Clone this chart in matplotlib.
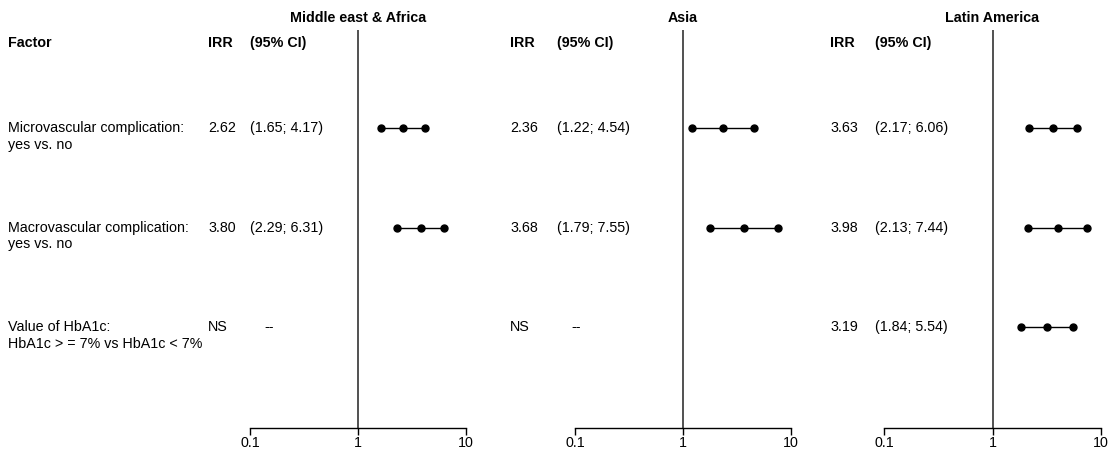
import matplotlib.pyplot as plt
import matplotlib.transforms as mtransforms

plt.rcParams['font.family'] = ['Liberation Sans', 'DejaVu Sans']
plt.rcParams['font.size'] = 10.3

regions = ['Middle east & Africa', 'Asia', 'Latin America']
factors = [('Microvascular complication:', 'yes vs. no'),
           ('Macrovascular complication:', 'yes vs. no'),
           ('Value of HbA1c:', 'HbA1c > = 7% vs HbA1c < 7%')]

# IRR, lower, upper per region (None = NS)
irr = [[2.62, 3.80, None],
       [2.36, 3.68, None],
       [3.63, 3.98, 3.19]]
lower = [[1.65, 2.29, None],
         [1.22, 1.79, None],
         [2.17, 2.13, 1.84]]
upper = [[4.17, 6.31, None],
         [4.54, 7.55, None],
         [6.06, 7.44, 5.54]]

W, H = 1109, 451
fig = plt.figure(figsize=(W / 100, H / 100), dpi=100)

# axes extents in pixels (left, right)
ax_px = [(250, 466), (575, 791), (884, 1101)]
irr_x = [208, 510, 830]
ci_x = [250, 557, 875]
top_px, bot_px = 30, 428

rows = [1, 2, 3]
for k in range(3):
    l, r = ax_px[k]
    ax = fig.add_axes([l / W, 1 - bot_px / H, (r - l) / W, (bot_px - top_px) / H])
    ax.set_xscale('log')
    ax.set_xlim(0.1, 10)
    ax.set_ylim(4.01, 0.02)
    for s in ['top', 'right', 'left']:
        ax.spines[s].set_visible(False)
    ax.spines['bottom'].set_linewidth(1.0)
    ax.set_yticks([])
    ax.set_xticks([0.1, 1, 10])
    ax.set_xticklabels(['0.1', '1', '10'])
    ax.minorticks_off()
    ax.tick_params(axis='x', length=5, width=1, pad=1)
    ax.axvline(1, color='#333333', lw=1.2)
    ax.text(1, -0.10, regions[k], fontweight='bold', ha='center', va='center')

    tr = mtransforms.blended_transform_factory(fig.transFigure, ax.transData)
    ax.text(irr_x[k] / W, 0.15, 'IRR', transform=tr, fontweight='bold', va='center')
    ax.text(ci_x[k] / W, 0.15, '(95% CI)', transform=tr, fontweight='bold', va='center')
    if k == 0:
        ax.text(8 / W, 0.15, 'Factor', transform=tr, fontweight='bold', va='center')

    for i, y in enumerate(rows):
        if k == 0:
            ax.text(8 / W, y, factors[i][0], transform=tr, va='center')
            ax.text(8 / W, y + 0.17, factors[i][1], transform=tr, va='center')
        if irr[k][i] is None:
            ax.text(irr_x[k] / W, y, 'NS', transform=tr, va='center')
            ax.text((ci_x[k] + 14) / W, y, '--', transform=tr, va='center')
            continue
        ax.text(irr_x[k] / W, y, '%.2f' % irr[k][i], transform=tr, va='center')
        ax.text(ci_x[k] / W, y, '(%.2f; %.2f)' % (lower[k][i], upper[k][i]),
                transform=tr, va='center')
        ax.plot([lower[k][i], upper[k][i]], [y, y], color='black', lw=1)
        ax.plot([lower[k][i], irr[k][i], upper[k][i]], [y, y, y], 'o',
                color='black', ms=5, clip_on=False)

fig.savefig('out.png', dpi=100)
